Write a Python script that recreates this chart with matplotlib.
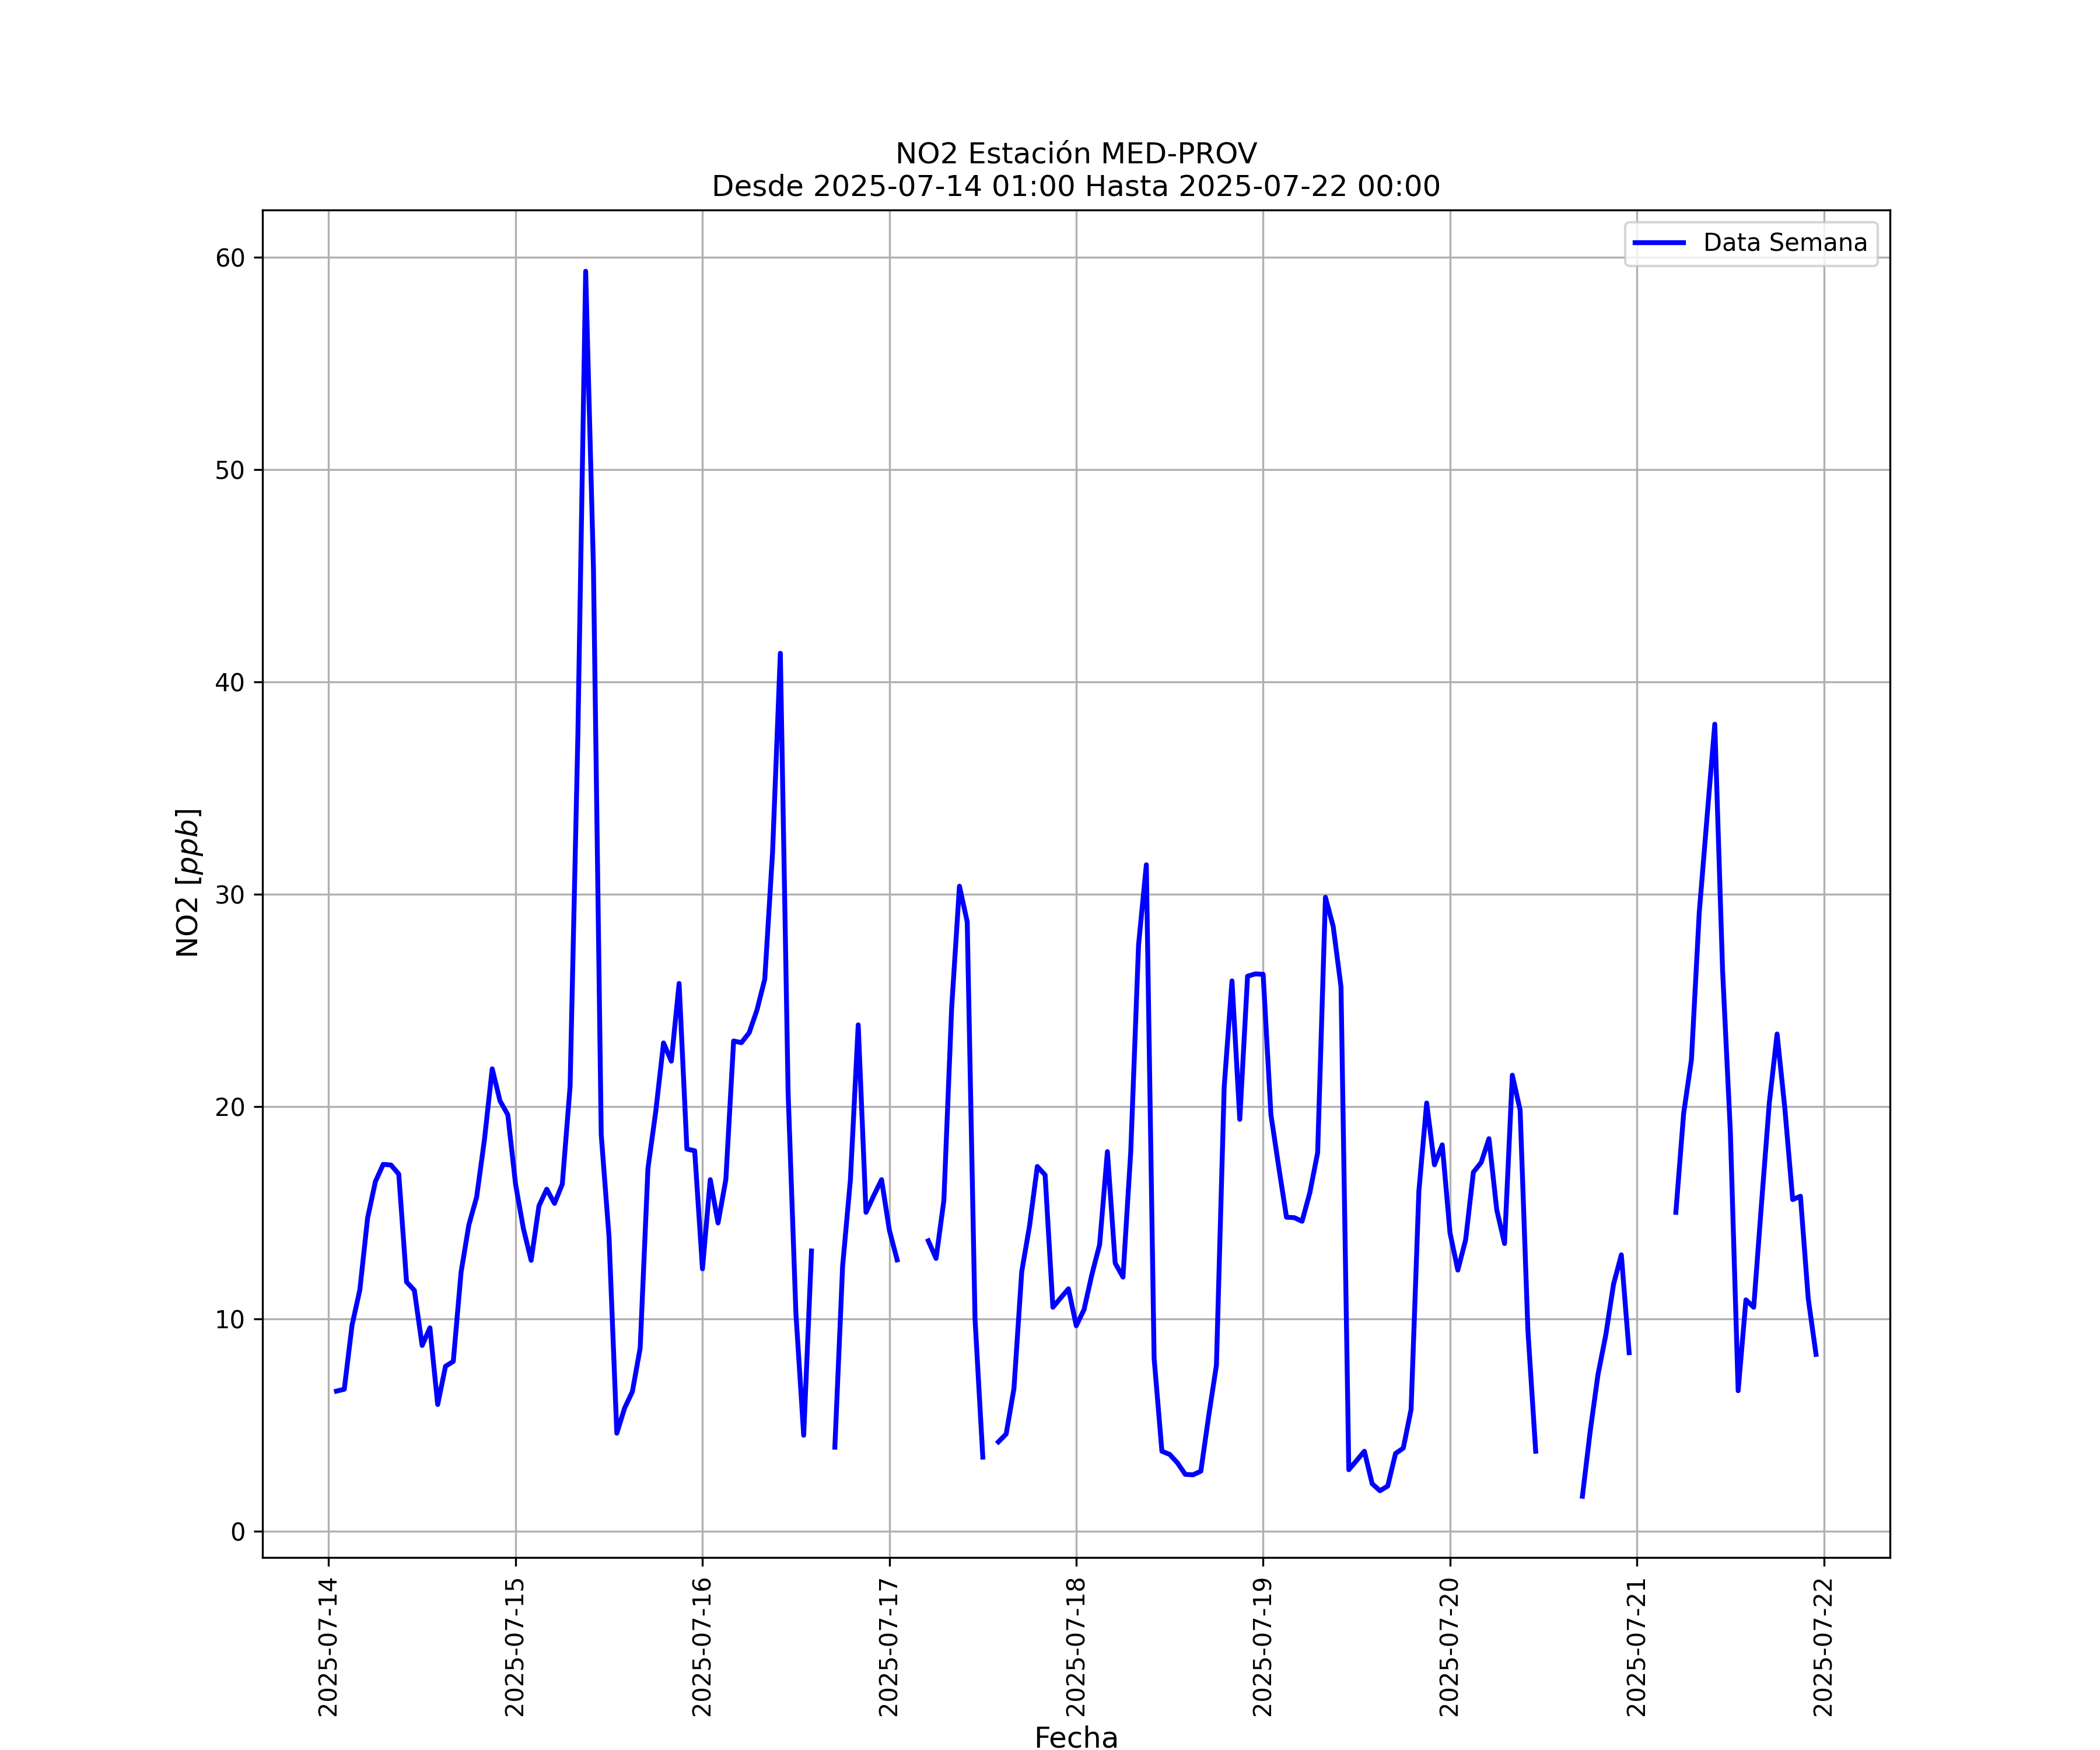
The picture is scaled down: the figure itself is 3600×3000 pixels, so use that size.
import numpy as np
import pandas as pd
import matplotlib
matplotlib.use("Agg")
import matplotlib.pyplot as plt
import matplotlib.dates as mdates

nan = np.nan

start_time = "2025-07-14 01:00"
title_text = "NO2 Estación MED-PROV\nDesde 2025-07-14 01:00 Hasta 2025-07-22 00:00"
series_label = "Data Semana"

# Hourly NO2 values (ppb), 2025-07-14 01:00 onwards, NaN = missing
day1 = [6.59, 6.68, 9.70, 11.36, 14.75, 16.46, 17.27, 17.24, 16.81, 11.73, 11.34, 8.74,
        9.57, 5.96, 7.76, 7.99, 12.19, 14.42, 15.73, 18.43, 21.77, 20.26, 19.61, 16.33]
day2 = [14.25, 12.75, 15.31, 16.10, 15.43, 16.34, 20.94, 37.48, 59.33, 45.35, 18.66, 13.86,
        4.61, 5.79, 6.57, 8.62, 17.09, 19.76, 22.99, 22.13, 25.79, 17.99, 17.91, 12.35]
day3 = [16.55, 14.51, 16.55, 23.08, 23.00, 23.47, 24.54, 25.99, 31.96, 41.34, 20.62, 10.25,
        4.51, 13.19, nan, nan, 3.95, 12.49, 16.55, 23.84, 15.01, 15.80, 16.55, 14.17]
day4 = [12.77, nan, nan, nan, 13.67, 12.84, 15.57, 24.64, 30.37, 28.69, 9.99, 3.48,
        nan, 4.20, 4.57, 6.71, 12.22, 14.37, 17.17, 16.77, 10.54, 10.98, 11.41, 9.67]
day5 = [10.43, 12.07, 13.49, 17.87, 12.62, 11.96, 17.87, 27.60, 31.38, 8.13, 3.76, 3.61,
        3.21, 2.67, 2.65, 2.82, 5.40, 7.81, 20.93, 25.91, 19.39, 26.13, 26.24, 26.22]
day6 = [19.61, 17.15, 14.78, 14.76, 14.59, 15.94, 17.82, 29.85, 28.47, 25.63, 2.89, 3.32,
        3.76, 2.23, 1.90, 2.12, 3.65, 3.91, 5.73, 16.01, 20.16, 17.25, 18.19, 14.04]
day7 = [12.29, 13.71, 16.90, 17.36, 18.48, 15.13, 13.54, 21.47, 19.83, 9.45, 3.76, nan,
        nan, nan, nan, nan, 1.64, 4.70, 7.37, 9.23, 11.63, 13.01, 8.40, nan]
day8 = [nan, nan, nan, nan, 15.01, 19.67, 22.20, 29.10, 33.60, 38.00, 26.40, 18.80,
        6.61, 10.89, 10.54, 15.42, 20.16, 23.41, 19.89, 15.61, 15.77, 10.95, 8.32]

values = day1 + day2 + day3 + day4 + day5 + day6 + day7 + day8
times = pd.date_range(start_time, periods=len(values), freq="h")

fig = plt.figure(figsize=(12, 10), dpi=300)
ax = fig.add_subplot(111)
ax.plot(times, values, color="blue", linewidth=2, label=series_label)

ax.set_title(title_text, fontsize=12)
ax.set_xlabel("Fecha", fontsize=12)
ax.set_ylabel("NO2 [$ppb$]", fontsize=12)
ax.xaxis.set_major_locator(mdates.DayLocator())
ax.xaxis.set_major_formatter(mdates.DateFormatter("%Y-%m-%d"))
plt.setp(ax.get_xticklabels(), rotation=90)
ax.grid(True)
ax.legend(loc="upper right")

fig.savefig("out.png", dpi=300)
